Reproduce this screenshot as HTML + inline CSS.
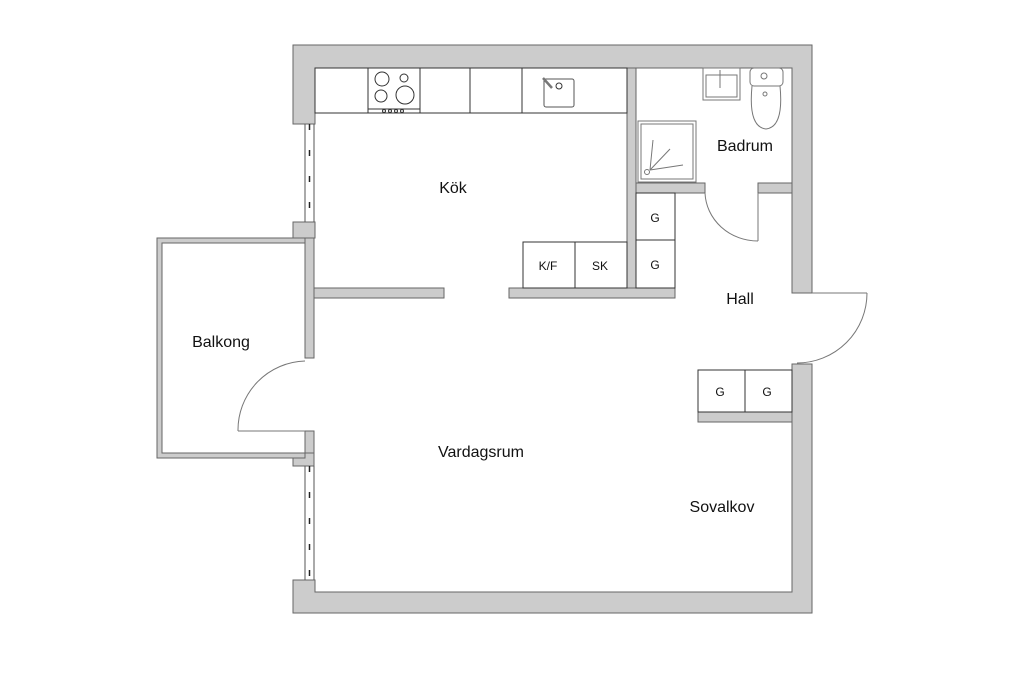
<!DOCTYPE html>
<html><head><meta charset="utf-8"><style>
html,body{margin:0;padding:0;background:#fff;}
svg{display:block;}
text{font-family:"Liberation Sans",sans-serif;fill:#111;}
</style></head><body>
<svg width="1024" height="683" viewBox="0 0 1024 683" xmlns="http://www.w3.org/2000/svg">
<g fill="#cccccc" stroke="#666" stroke-width="1">
<!-- top wall + upper left + right upper -->
<path d="M293,45 H812 V293 H792 V68 H315 V124 H293 Z"/>
<!-- left pillar above balcony -->
<rect x="293" y="222" width="22" height="16"/>
<!-- left wall strip next to balcony -->
<rect x="305" y="238" width="9" height="120"/>
<rect x="305" y="431" width="9" height="27"/>
<rect x="293" y="453" width="21" height="13"/>
<!-- bottom wall + right lower -->
<path d="M293,580 H315 V592 H792 V364 H812 V613 H293 Z"/>
<!-- partitions -->
<rect x="314" y="288" width="130" height="10"/>
<rect x="509" y="288" width="166" height="10"/>
<rect x="627" y="68" width="9" height="220"/>
<rect x="636" y="183" width="69" height="10"/>
<rect x="758" y="183" width="34" height="10"/>
<rect x="698" y="412" width="94" height="10"/>
</g>
<!-- balcony rail -->
<path d="M305,238 H157 V458 H305 V453 H162 V243 H305 Z" fill="#ccc" stroke="#666" stroke-width="1"/>
<!-- windows -->
<g stroke="#555" stroke-width="1" fill="none">
<line x1="305" y1="124" x2="305" y2="222"/><line x1="314" y1="124" x2="314" y2="222"/>
<line x1="309.5" y1="124" x2="309.5" y2="222" stroke-dasharray="6,20" stroke-width="1.5" stroke="#222"/>
<line x1="305" y1="466" x2="305" y2="580"/><line x1="314" y1="466" x2="314" y2="580"/>
<line x1="309.5" y1="466" x2="309.5" y2="580" stroke-dasharray="6,20" stroke-width="1.5" stroke="#222"/>
</g>
<!-- doors -->
<g stroke="#777" stroke-width="1" fill="none">
<path d="M238,431 H305"/><path d="M238,431 A69,69 0 0 1 305,361"/>
<path d="M758,193 V241"/><path d="M705,193 A53,50 0 0 0 758,241"/>
<path d="M812,293 H867"/><path d="M867,293 A70,70 0 0 1 797,363"/>
</g>
<!-- kitchen counter -->
<g stroke="#333" stroke-width="1" fill="none">
<rect x="315" y="68" width="312" height="45"/>
<line x1="368" y1="68" x2="368" y2="113"/><line x1="420" y1="68" x2="420" y2="113"/>
<line x1="470" y1="68" x2="470" y2="113"/><line x1="522" y1="68" x2="522" y2="113"/>
<line x1="368" y1="109" x2="420" y2="109"/>
<circle cx="382" cy="79" r="7"/><circle cx="404" cy="78" r="4"/>
<circle cx="381" cy="96" r="6"/><circle cx="405" cy="95" r="9"/>
<circle cx="384" cy="111" r="1.5"/><circle cx="390" cy="111" r="1.5"/><circle cx="396" cy="111" r="1.5"/><circle cx="402" cy="111" r="1.5"/>
<rect x="544" y="79" width="30" height="28" rx="2" stroke="#555"/>
<circle cx="559" cy="86" r="3"/><line x1="543" y1="78" x2="552" y2="88" stroke-width="2.5" stroke="#777"/>
<!-- K/F SK -->
<rect x="523" y="242" width="104" height="46"/><line x1="575" y1="242" x2="575" y2="288"/>
<!-- G column -->
<rect x="636" y="193" width="39" height="95"/><line x1="636" y1="240" x2="675" y2="240"/>
<rect x="698" y="370" width="94" height="42"/><line x1="745" y1="370" x2="745" y2="412"/>
</g>
<!-- bathroom fixtures -->
<g stroke="#777" stroke-width="1" fill="none">
<rect x="638" y="121" width="58" height="61"/><rect x="641" y="124" width="52" height="55"/>
<line x1="650" y1="170" x2="683" y2="165"/><line x1="650" y1="170" x2="670" y2="149"/><line x1="650" y1="170" x2="653" y2="140"/>
<circle cx="647" cy="172" r="2.5"/>
<rect x="703" y="68" width="37" height="32"/><rect x="706" y="75" width="31" height="22"/>
<line x1="720" y1="70" x2="720" y2="88"/>
<rect x="750" y="68" width="33" height="18" rx="4"/><circle cx="764" cy="76" r="3"/>
<path d="M752,86 Q748,127 766,129 Q784,127 780,86"/><circle cx="765" cy="94" r="2"/>
</g>
<!-- labels -->
<g font-size="16">
<text x="453" y="193" text-anchor="middle">Kök</text>
<text x="745" y="151" text-anchor="middle">Badrum</text>
<text x="740" y="304" text-anchor="middle">Hall</text>
<text x="221" y="347" text-anchor="middle">Balkong</text>
<text x="481" y="457" text-anchor="middle">Vardagsrum</text>
<text x="722" y="512" text-anchor="middle">Sovalkov</text>
</g>
<g font-size="12" text-anchor="middle">
<text x="548" y="270">K/F</text><text x="600" y="270">SK</text>
<text x="655" y="222">G</text><text x="655" y="269">G</text>
<text x="720" y="396">G</text><text x="767" y="396">G</text>
</g>
</svg>
</body></html>
